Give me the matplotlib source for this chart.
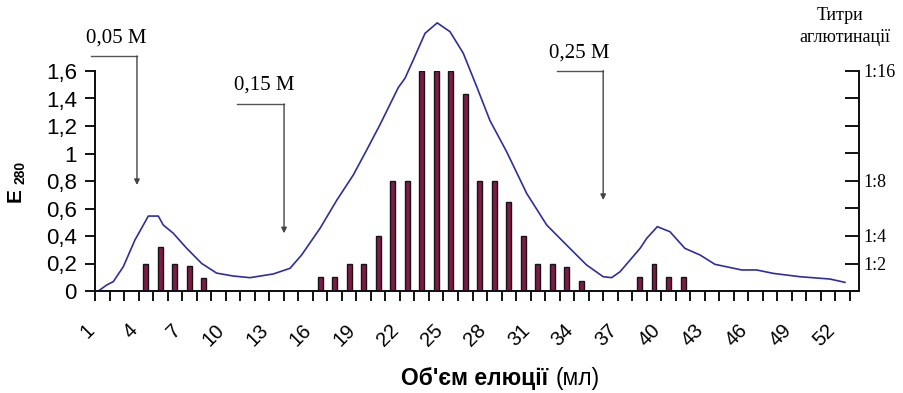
import numpy as np
import matplotlib
matplotlib.use("Agg")
import matplotlib.pyplot as plt

# elution profile, E280 (volume in ml)
volume = [1.23, 1.81, 2.26, 2.95, 3.75, 4.33, 4.67, 5.36, 5.70, 6.39, 7.32, 8.35,
          9.38, 10.52, 11.67, 13.28, 14.43, 15.23, 16.5, 17.65, 18.79, 19.71, 20.63,
          21.89, 22.35, 22.92, 23.73, 24.57, 25.45, 26.36, 27.29, 28.2, 29.35, 30.73,
          32.11, 33.71, 34.86, 36.0, 36.58, 37.16, 37.85, 38.54, 39.0, 39.73, 40.6,
          41.63, 42.67, 43.7, 45.54, 46.57, 47.72, 49.55, 51.62, 52.65]
e280 = [0.0, 0.044, 0.068, 0.177, 0.371, 0.48, 0.545, 0.545, 0.48, 0.42, 0.31, 0.20,
        0.13, 0.109, 0.097, 0.124, 0.165, 0.262, 0.456, 0.66, 0.844, 1.025, 1.21,
        1.48, 1.547, 1.68, 1.874, 1.95, 1.886, 1.73, 1.486, 1.24, 1.013, 0.71,
        0.48, 0.31, 0.189, 0.104, 0.097, 0.14, 0.225, 0.31, 0.383, 0.468, 0.431,
        0.31, 0.262, 0.194, 0.153, 0.153, 0.128, 0.104, 0.087, 0.063]

# agglutination titres per fraction (fraction start, ml)
fraction = [4, 5, 6, 7, 8, 16, 17, 18, 19, 20, 21, 22, 23, 24, 25, 26, 27, 28,
            29, 30, 31, 32, 33, 34, 38, 39, 40, 41]
titre = [2.0, 3.2, 2.0, 1.85, 0.95, 1.0, 1.0, 2.0, 2.0, 4.0, 8.0, 8.0, 16, 16, 16,
         14.3, 8.0, 8.0, 6.5, 4.0, 2.0, 2.0, 1.75, 0.7, 1.0, 2.0, 1.0, 1.0]

x_labels = [str(v) for v in range(1, 53, 3)]
y_labels = ["0", "0,2", "0,4", "0,6", "0,8", "1", "1,2", "1,4", "1,6"]
titre_labels = ["", "1:2", "1:4", "", "1:8", "", "", "", "1:16"]

# salt steps: label, text pos, elbow start x, elbow x, elbow y, arrow tip y
steps = [("0,05 M", 2.45, 1.84, 0.70, 3.89, 1.709, 0.771),
         ("0,15 M", 12.64, 1.50, 10.78, 14.02, 1.36, 0.42),
         ("0,25 M", 34.33, 1.73, 32.8, 36.0, 1.602, 0.662)]

W, H = 904, 393
sans = "Liberation Sans"
serif = "Liberation Serif"


def plot():
    fig = plt.figure(figsize=(W / 100, H / 100), dpi=100)
    ax = fig.add_axes([95 / W, (H - 291) / H, (859.3 - 95) / W, 220 / H])
    ax2 = ax.twinx()
    ax.set_zorder(ax2.get_zorder() + 1)
    ax.patch.set_visible(False)

    ax2.bar(np.array(fraction) + 0.5, titre, width=0.34, color="#7b1d46",
            edgecolor="#1a1214", linewidth=1.0)
    ax.plot(volume, e280, color="#2e2e9e", lw=1.2, clip_on=False)

    ax.set_xlim(1, 53.64)
    ax.set_ylim(0, 1.6)
    ax2.set_ylim(0, 16)

    for a in (ax, ax2):
        a.spines["top"].set_visible(False)
        for s in ("left", "bottom", "right"):
            a.spines[s].set_linewidth(1.3)
            a.spines[s].set_color("#111111")

    ax.set_xticks(range(1, 53, 3))
    ax.set_xticks(range(1, 54), minor=True)
    ax.set_xticklabels(x_labels, fontsize=14.5, family=sans)
    ax.tick_params(axis="x", which="both", direction="out", length=7, width=1.3, pad=22)
    for lab in ax.get_xticklabels():
        lab.set_rotation(45)
        lab.set_ha("right")
        lab.set_va("baseline")
        lab.set_rotation_mode("anchor")

    ax.set_yticks(np.arange(0, 1.61, 0.2))
    ax.set_yticklabels(y_labels, fontsize=16, family=sans)
    ax.tick_params(axis="y", direction="out", length=7, width=1.3, pad=6)

    ax2.set_yticks(range(0, 17, 2))
    ax2.set_yticklabels(titre_labels, fontsize=13, family=serif)
    ax2.tick_params(axis="y", direction="in", length=10, width=1.3, pad=3)

    for text, tx, ty, x0, x1, y0, tip in steps:
        ax.text(tx, ty, text, fontsize=15, family=serif, ha="center", va="center",
                clip_on=False)
        ax.plot([x0, x1], [y0, y0], color="#555555", lw=1.0, clip_on=False)
        ax.annotate("", xy=(x1, tip), xytext=(x1, y0),
                    arrowprops=dict(arrowstyle="-|>", color="#444444", lw=1.0,
                                    mutation_scale=8, shrinkA=0, shrinkB=0),
                    annotation_clip=False)

    fig.text(15.5 / W, (H - 195) / H, "E", fontsize=15, fontweight="bold", family=sans,
             rotation=90, ha="center", va="center")
    fig.text(20.5 / W, (H - 172.5) / H, "280", fontsize=10, fontweight="bold",
             family=sans, rotation=90, ha="center", va="center")

    fig.text(548 / W, (H - 385) / H, "Об'єм елюції", fontsize=16.5, fontweight="bold",
             family=sans, ha="right", va="baseline")
    fig.text(556 / W, (H - 385) / H, "(мл)", fontsize=16.5, family=sans,
             ha="left", va="baseline")

    fig.text(840 / W, (H - 15) / H, "Титри", fontsize=13, family=serif,
             ha="center", va="center")
    fig.text(845 / W, (H - 37) / H, "аглютинації", fontsize=13, family=serif,
             ha="center", va="center")

    fig.savefig("out.png", dpi=100)


def main():
    plot()


if __name__ == '__main__':
    main()
